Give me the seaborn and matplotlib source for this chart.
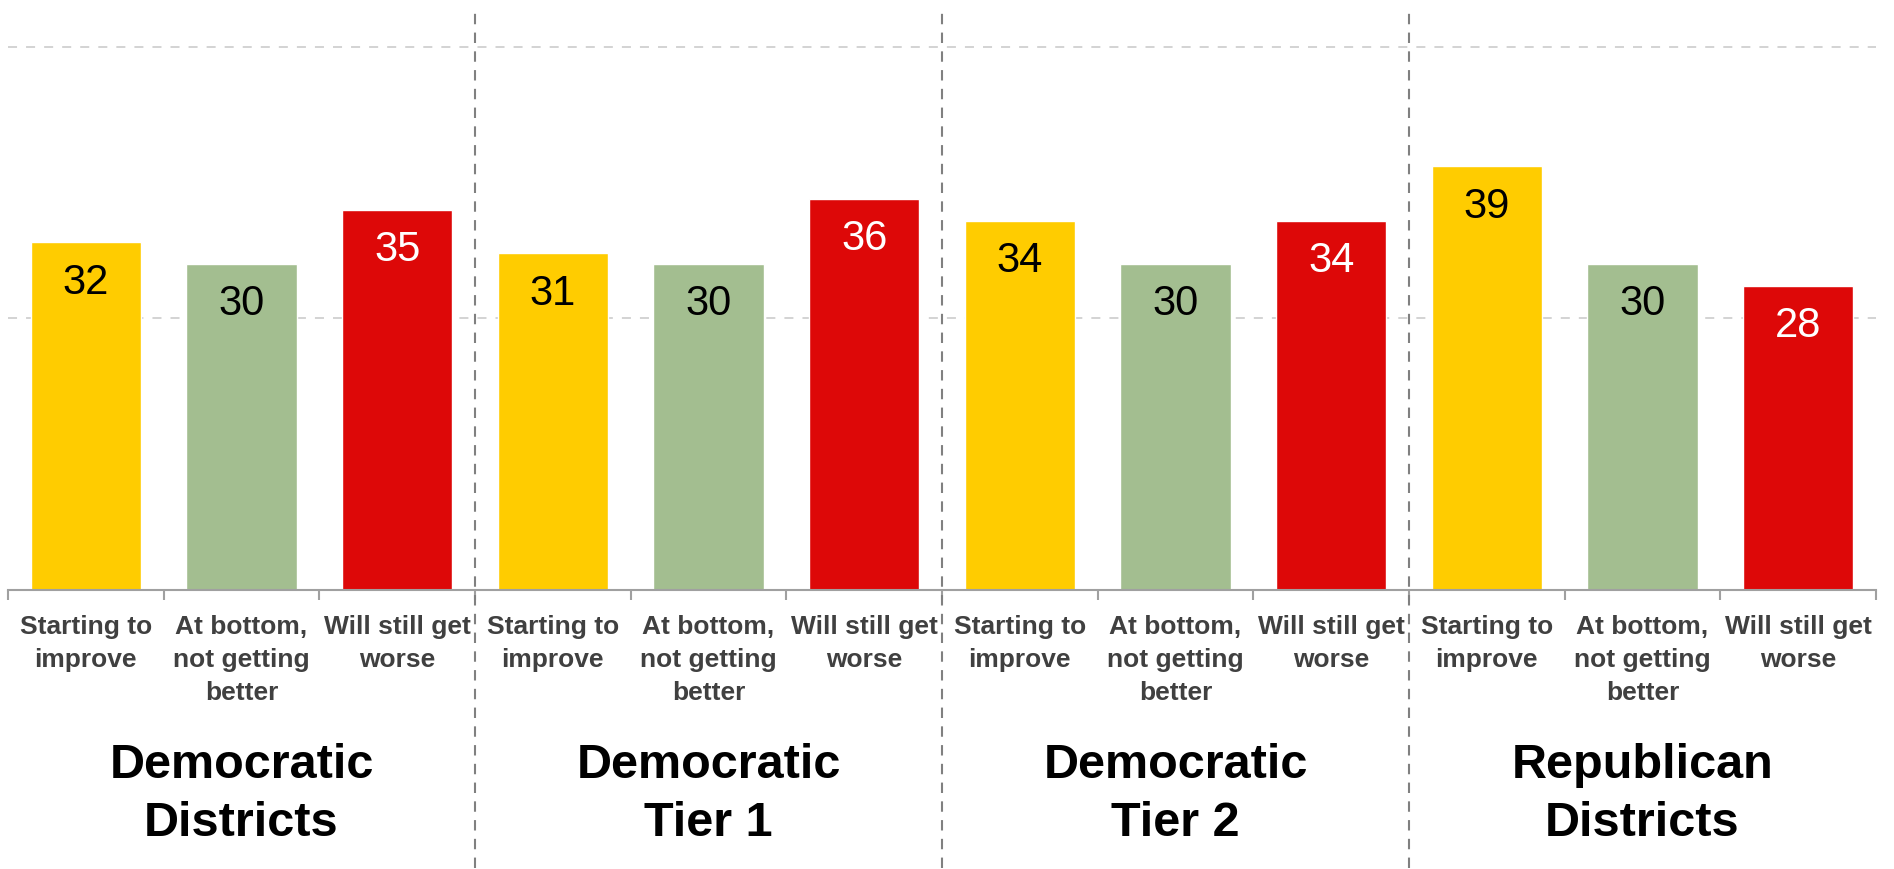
import pandas as pd
import numpy as np
import seaborn as sns
from matplotlib import pyplot as plt

groups = ["Democratic\nDistricts", "Democratic\nTier 1", "Democratic\nTier 2", "Republican\nDistricts"]
categories = ["Starting to\nimprove", "At bottom,\nnot getting\nbetter", "Will still get\nworse"]
improve = [32, 31, 34, 39]
bottom = [30, 30, 30, 30]
worse = [35, 36, 34, 28]

colors = {"Starting to\nimprove": "#FFCC00",
          "At bottom,\nnot getting\nbetter": "#A3BE90",
          "Will still get\nworse": "#DD0808"}
label_colors = ["black", "black", "white"]

rows = []
for g in range(len(groups)):
    for c, vals in enumerate([improve, bottom, worse]):
        rows.append({"slot": g * 3 + c, "group": groups[g], "category": categories[c], "value": vals[g]})
df = pd.DataFrame(rows)

sns.set_style("white")
plt.rcParams['font.family'] = ['Liberation Sans', 'DejaVu Sans']

fig = plt.figure(figsize=(18.94, 8.69), dpi=100)
W, H = 1894, 869
ax = fig.add_axes([8 / W, 1 - 590 / H, 1868 / W, 580 / H])

sns.barplot(data=df, x="slot", y="value", hue="category", palette=colors,
            dodge=False, width=0.71, legend=False, saturation=1, ax=ax)

ax.set_xlim(-0.5, 11.5)
ax.set_ylim(0, 53.4)

for y in [25, 50]:
    ax.axhline(y, color="#D0D0D0", lw=1.3, ls=(0, (5, 5)), zorder=0)

for s in ["left", "right", "top"]:
    ax.spines[s].set_visible(False)
ax.spines["bottom"].set_color("#A0A0A0")
ax.spines["bottom"].set_linewidth(1.5)
ax.set_yticks([])
ax.set_xlabel("")
ax.set_ylabel("")

ax.set_xticks(np.arange(-0.5, 12, 1.0))
ax.set_xticklabels([])
ax.tick_params(axis="x", which="major", direction="out", length=7, width=1.5, color="#A0A0A0", bottom=True)
ax.set_xticks(np.arange(12), minor=True)
ax.set_xticklabels(categories * 4, minor=True, fontsize=19, fontweight="bold", color="#404040", linespacing=1.48)
ax.tick_params(axis="x", which="minor", length=0, pad=18)

for _, r in df.iterrows():
    ax.annotate(str(r["value"]), (r["slot"], r["value"]), xytext=(0, -29), textcoords="offset points",
                ha="center", va="center", fontsize=30, color=label_colors[r["slot"] % 3])

for x in [2.5, 5.5, 8.5]:
    ax.axvline(x, ymin=-0.48, ymax=1.0, color="#808080", lw=1.5, ls=(0, (5, 4)), clip_on=False, zorder=1)

for g, name in enumerate(groups):
    ax.text(g * 3 + 1, -0.352, name, transform=ax.get_xaxis_transform(), ha="center", va="center",
            fontsize=35, fontweight="bold", color="black", linespacing=1.37)

plt.savefig("out.png", dpi=100)
